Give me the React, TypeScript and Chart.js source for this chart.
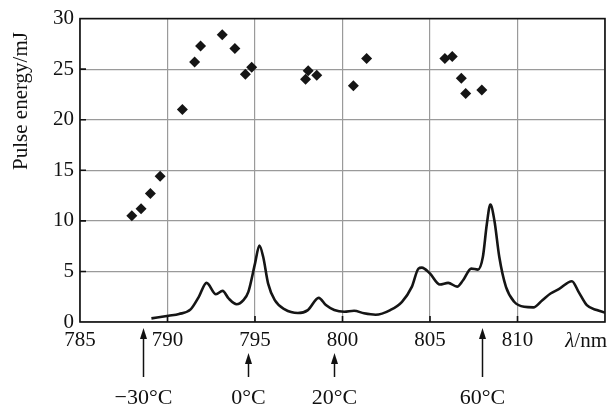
import React, { useEffect, useRef } from "react";
import { Chart, registerables } from "chart.js";

Chart.register(...registerables);

// Scatter data: measured pulse energy (mJ) vs wavelength (nm)
const energyX = [787.96, 788.49, 789.02, 789.58, 790.85, 791.55, 791.89, 793.13, 793.85, 794.45, 794.81, 797.89, 798.04, 798.53, 800.62, 801.38, 805.85, 806.27, 806.79, 807.04, 807.96];
const energyY = [10.5, 11.2, 12.7, 14.4, 21.0, 25.7, 27.3, 28.4, 27.05, 24.5, 25.2, 24.0, 24.85, 24.4, 23.35, 26.05, 26.05, 26.25, 24.1, 22.6, 22.95];

// Absorption-like spectrum curve
const curveX = [789.08, 790.06, 790.66, 791.32, 791.79, 792.23, 792.77, 793.15, 793.49, 793.95, 794.34, 794.62, 795.0, 795.25, 795.47, 795.75, 796.13, 796.7, 797.45, 798.02, 798.64, 799.05, 799.53, 800.1, 800.66, 801.23, 801.89, 802.73, 803.4, 803.96, 804.34, 804.53, 805.0, 805.56, 806.04, 806.55, 806.89, 807.36, 807.74, 808.02, 808.25, 808.45, 808.68, 808.96, 809.34, 809.81, 810.38, 810.9, 811.42, 811.89, 812.36, 813.11, 813.49, 813.96, 814.53, 815.0];
const curveY = [0.36, 0.62, 0.79, 1.25, 2.49, 3.87, 2.75, 3.08, 2.33, 1.75, 2.16, 2.98, 5.77, 7.57, 6.42, 3.8, 2.16, 1.25, 0.89, 1.18, 2.39, 1.67, 1.18, 1.01, 1.11, 0.86, 0.72, 1.18, 2.0, 3.47, 5.28, 5.38, 4.79, 3.71, 3.87, 3.5, 4.13, 5.28, 5.18, 6.42, 9.71, 11.61, 10.03, 6.42, 3.47, 2.0, 1.5, 1.45, 2.16, 2.82, 3.25, 4.03, 2.98, 1.67, 1.18, 0.92];

// Temperature markers below the axis
const tempX = [788.6, 794.58, 799.5, 807.98];
const tempLabels = ["\u221230\u00b0C", "0\u00b0C", "20\u00b0C", "60\u00b0C"];
const tempLong = [true, false, false, true];

const xTicks = [785, 790, 795, 800, 805, 810];
const yTicks = [0, 5, 10, 15, 20, 25, 30];

const FONT = "'Liberation Serif', 'Times New Roman', serif";

const decorPlugin = {
  id: "decor",
  beforeDatasetsDraw(chart: any) {
    const { ctx, chartArea: a, scales } = chart;
    ctx.save();
    ctx.strokeStyle = "#111";
    ctx.lineWidth = 1.6;
    ctx.strokeRect(a.left, a.top, a.right - a.left, a.bottom - a.top);
    ctx.lineWidth = 1.6;
    ctx.beginPath();
    for (const v of xTicks) {
      if (v === 785) continue;
      const px = scales.x.getPixelForValue(v);
      ctx.moveTo(px, a.bottom);
      ctx.lineTo(px, a.bottom - 6);
    }
    for (const v of yTicks) {
      if (v === 0 || v === 30) continue;
      const py = scales.y.getPixelForValue(v);
      ctx.moveTo(a.left, py);
      ctx.lineTo(a.left + 6, py);
    }
    ctx.stroke();
    ctx.restore();
  },
  afterDraw(chart: any) {
    const { ctx, chartArea: a, scales } = chart;
    ctx.save();
    ctx.fillStyle = "#111";
    ctx.strokeStyle = "#111";
    // y axis title
    ctx.save();
    ctx.translate(27, 101);
    ctx.rotate(-Math.PI / 2);
    ctx.font = `21px ${FONT}`;
    ctx.textAlign = "center";
    ctx.textBaseline = "alphabetic";
    ctx.fillText("Pulse energy/mJ", 0, 0);
    ctx.restore();
    // x axis unit label
    ctx.font = `21px ${FONT}`;
    ctx.textBaseline = "alphabetic";
    ctx.textAlign = "right";
    const rightX = 607;
    ctx.fillText("/nm", rightX, 347);
    const w = ctx.measureText("/nm").width;
    ctx.font = `italic 21px ${FONT}`;
    ctx.fillText("\u03bb", rightX - w, 347);
    // temperature arrows
    ctx.lineWidth = 1.5;
    for (let i = 0; i < tempX.length; i++) {
      const px = Math.round(scales.x.getPixelForValue(tempX[i])) + 0.5;
      const top = tempLong[i] ? 328 : 353;
      const bottom = 377;
      ctx.beginPath();
      ctx.moveTo(px, top + 8);
      ctx.lineTo(px, bottom);
      ctx.stroke();
      ctx.beginPath();
      ctx.moveTo(px, top);
      ctx.lineTo(px - 3.5, top + 11);
      ctx.lineTo(px + 3.5, top + 11);
      ctx.closePath();
      ctx.fill();
      ctx.font = `22px ${FONT}`;
      ctx.textAlign = "center";
      ctx.fillText(tempLabels[i], px, 404);
    }
    ctx.restore();
  },
};

export default function App() {
  const ref = useRef<HTMLCanvasElement | null>(null);
  useEffect(() => {
    if (!ref.current) return;
    const chart = new Chart(ref.current, {
      type: "scatter",
      data: {
        datasets: [
          {
            type: "line",
            data: curveX.map((x, i) => ({ x, y: curveY[i] })),
            borderColor: "#151515",
            borderWidth: 2.6,
            pointRadius: 0,
            cubicInterpolationMode: "monotone",
            fill: false,
          } as any,
          {
            type: "scatter",
            data: energyX.map((x, i) => ({ x, y: energyY[i] })),
            pointStyle: "rectRot",
            pointRadius: 5.5,
            backgroundColor: "#151515",
            borderWidth: 0,
          } as any,
        ],
      },
      options: {
        animation: false,
        responsive: true,
        maintainAspectRatio: false,
        layout: { padding: { left: 0, top: 17, right: 2, bottom: 0 } },
        plugins: { legend: { display: false }, tooltip: { enabled: false } },
        scales: {
          x: {
            type: "linear",
            min: 785,
            max: 815,
            afterFit: (s: any) => { s.height = 85; },
            afterBuildTicks: (s: any) => { s.ticks = [...xTicks, 815].map((v) => ({ value: v })); },
            ticks: {
              callback: (v: any) => (v === 815 ? "" : String(v)),
              color: "#111",
              font: { family: FONT, size: 21 },
              padding: 6,
              maxRotation: 0,
              autoSkip: false,
            },
            grid: { color: "#9a9a9a", lineWidth: 1.2, drawTicks: false },
            border: { display: false },
          },
          y: {
            type: "linear",
            min: 0,
            max: 30,
            afterFit: (s: any) => { s.width = 80; },
            afterBuildTicks: (s: any) => { s.ticks = yTicks.map((v) => ({ value: v })); },
            ticks: {
              color: "#111",
              font: { family: FONT, size: 21 },
              padding: 6,
            },
            grid: { color: "#9a9a9a", lineWidth: 1.2, drawTicks: false },
            border: { display: false },
          },
        },
      },
      plugins: [decorPlugin],
    });
    return () => chart.destroy();
  }, []);
  return (
    <div style={{ position: "absolute", left: 0, top: 0, width: 611, height: 407, background: "#fff" }}>
      <canvas ref={ref} />
    </div>
  );
}
